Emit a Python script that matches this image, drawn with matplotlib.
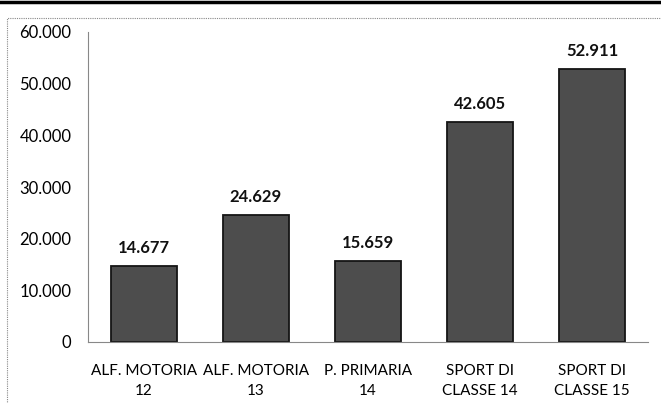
import matplotlib.pyplot as plt
import matplotlib.patches as mpatches
from matplotlib.ticker import FuncFormatter
import numpy as np

categories = ["ALF. MOTORIA\n12", "ALF. MOTORIA\n13", "P. PRIMARIA\n14",
              "SPORT DI\nCLASSE 14", "SPORT DI\nCLASSE 15"]
values = [14677, 24629, 15659, 42605, 52911]
value_labels = ["14.677", "24.629", "15.659", "42.605", "52.911"]
yticks = [0, 10000, 20000, 30000, 40000, 50000, 60000]

plt.rcParams['font.family'] = ['Lato', 'DejaVu Sans']

my_dpi = 100
fig = plt.figure(figsize=(661/my_dpi, 403/my_dpi), dpi=my_dpi)
ax1 = fig.add_axes([88/661, 1-342/403, 560/661, 310/403])

# outer frame (dotted) and the thick rule at the top of the scan
frame = mpatches.Rectangle((7/661, -0.05), 1.0, 1-18/403+0.05, transform=fig.transFigure,
                           fill=False, edgecolor='#888888', linestyle=(0, (1, 1)), linewidth=0.8)
fig.patches.append(frame)
fig.add_artist(plt.Line2D([0, 1], [1-1.5/403, 1-1.5/403], color='black', linewidth=2.5,
                          transform=fig.transFigure))

xData = np.arange(len(categories))
bars = ax1.bar(xData, values, width=0.59, color='#4d4d4d', edgecolor='#151515', linewidth=1.3)

for x, v, lab in zip(xData, values, value_labels):
    ax1.text(x, v + 1900, lab, ha='center', va='bottom', fontsize=12, fontweight='bold', color='#111111')

ax1.set_xlim(-0.5, len(categories) - 0.5)
ax1.set_ylim(0, 60000)
ax1.set_yticks(yticks)
ax1.yaxis.set_major_formatter(FuncFormatter(lambda v, p: "{:,.0f}".format(v).replace(",", ".")))
ax1.set_xticks(xData)
ax1.set_xticklabels(categories, fontsize=11, linespacing=1.55)
ax1.tick_params(axis='y', length=0, pad=12, labelsize=12)
ax1.tick_params(axis='x', length=0, pad=16)

for side in ['top', 'right']:
    ax1.spines[side].set_visible(False)
for side in ['left', 'bottom']:
    ax1.spines[side].set_color('#888888')
    ax1.spines[side].set_linestyle((0, (1, 1)))
    ax1.spines[side].set_linewidth(0.8)

fig.savefig('out.png', dpi=my_dpi)
